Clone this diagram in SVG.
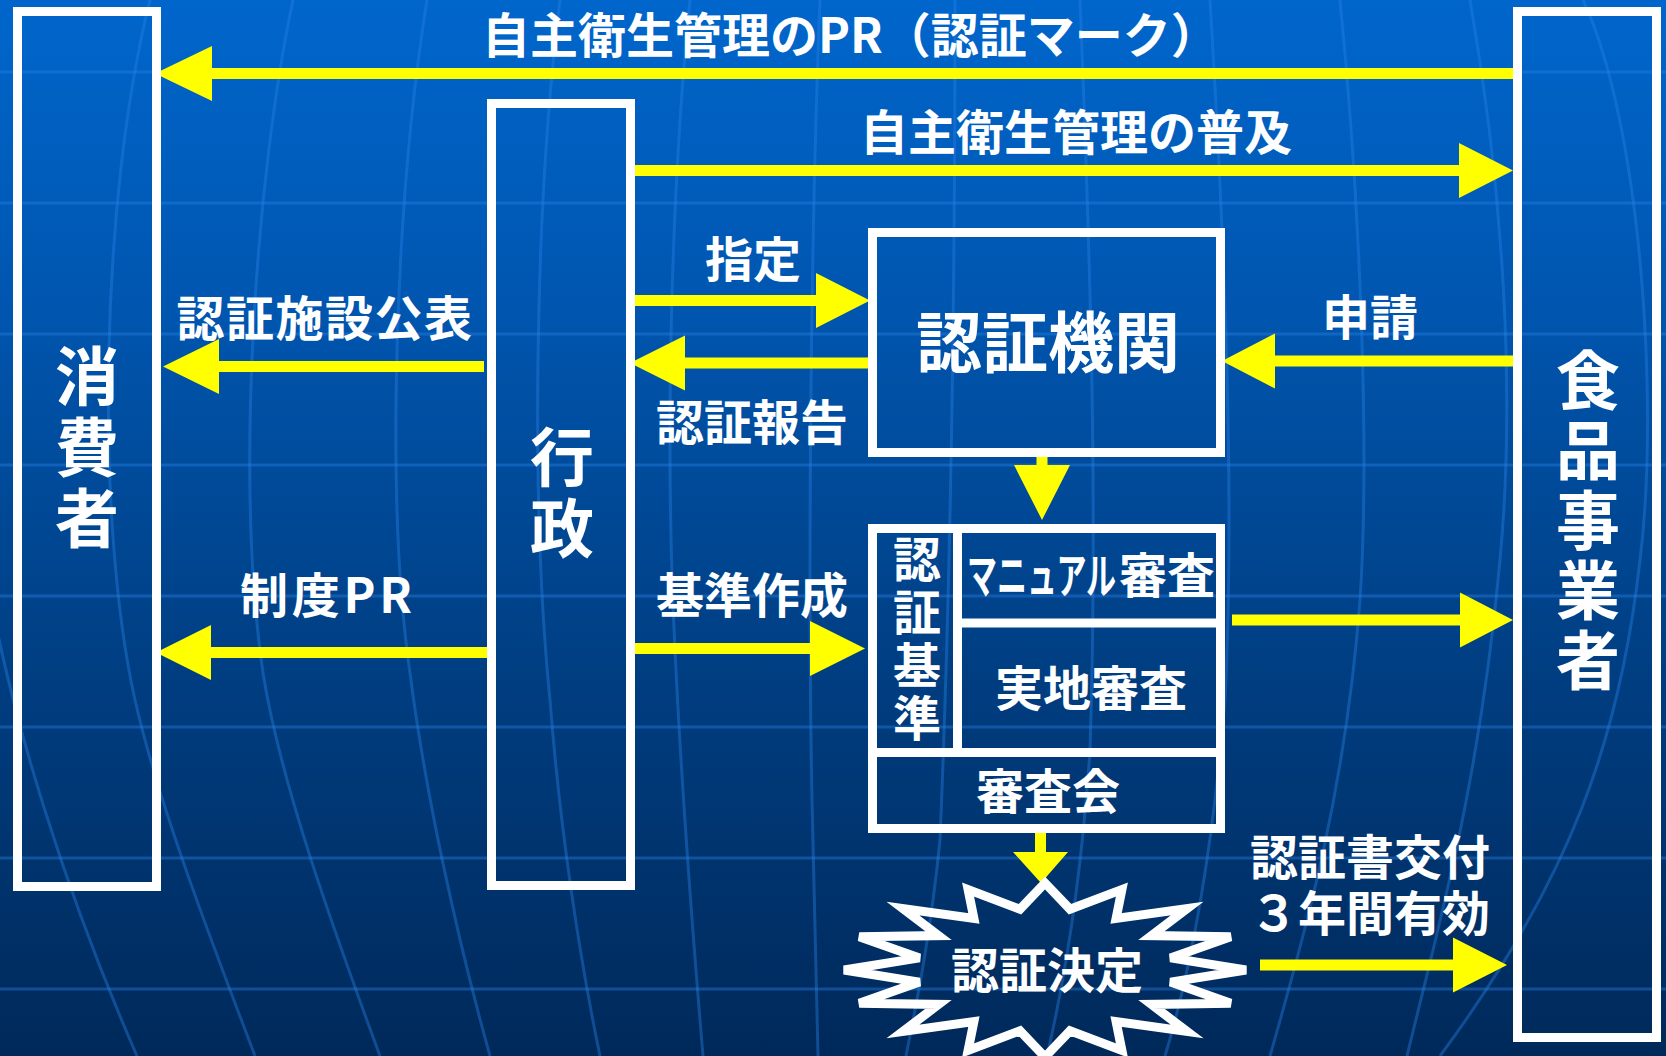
<svg xmlns="http://www.w3.org/2000/svg" width="1666" height="1056" viewBox="0 0 1666 1056">
<defs>
<linearGradient id="bg" x1="0" y1="0" x2="0" y2="1">
<stop offset="0" stop-color="#0066cc"/>
<stop offset="0.3" stop-color="#0055ae"/>
<stop offset="0.65" stop-color="#003d80"/>
<stop offset="1" stop-color="#00295a"/>
</linearGradient>
<style>
.grid{fill:none;stroke:#2882e6;stroke-opacity:0.4;stroke-width:3}
.hl{fill:none;stroke:#2882e6;stroke-opacity:0.4;stroke-width:3}
.box{fill:none;stroke:#ffffff;stroke-width:9}
.arr{fill:#ffff00}
.t{font-family:"Noto Sans CJK JP","Noto Sans",sans-serif;font-weight:bold;fill:#ffffff}
.s48{font-size:48px}
.s64{font-size:64px}
.s66{font-size:66px}
.c{text-anchor:middle}
.v{writing-mode:vertical-rl}
</style>
</defs>
<rect x="0" y="0" width="1666" height="1056" fill="url(#bg)"/>
<g id="background-grid">
<path class="hl" d="M0,72H1666M0,203H1666M0,334H1666M0,465H1666M0,596H1666M0,727H1666M0,858H1666M0,989H1666"/>
<path class="grid" d="M-5,620 C15,720 60,880 137,1056"/>
<path class="grid" d="M150,0 C100,200 95,520 135,700 C160,810 215,950 255,1056"/>
<path class="grid" d="M293,0 C255,180 235,480 263,673 C280,780 330,920 380,1056"/>
<path class="grid" d="M427,0 C395,200 385,500 410,673 C425,790 455,930 490,1056"/>
<path class="grid" d="M560,0 C535,200 530,500 550,700 C560,830 580,960 600,1056"/>
<path class="grid" d="M690,0 C670,200 665,450 675,650 C683,820 695,960 703,1056"/>
<path class="grid" d="M820,0 C810,250 808,600 812,800 C815,900 817,1000 818,1056"/>
<path class="grid" d="M955,0 C955,300 950,600 940,840 C930,940 915,1010 906,1056"/>
<path class="grid" d="M1080,0 C1090,250 1098,500 1090,750 C1080,900 1060,1000 1047,1056"/>
<path class="grid" d="M1210,0 C1225,250 1235,500 1225,700 C1210,880 1185,990 1165,1056"/>
<path class="grid" d="M1340,0 C1360,200 1370,450 1360,600 C1345,800 1300,950 1270,1056"/>
<path class="grid" d="M1470,0 C1505,200 1515,400 1500,560 C1480,780 1440,920 1407,1056"/>
<path class="grid" d="M1583,0 C1640,120 1660,400 1640,560 C1620,740 1570,880 1440,1056"/>
</g>
<g id="connectors">
<polygon class="arr" points="155,73.5 212,46 212,68 1518,68 1518,79 212,79 212,101"/>
<polygon class="arr" points="1513,170.5 1459,143 1459,165 632,165 632,176 1459,176 1459,198"/>
<polygon class="arr" points="870,300.5 816,273 816,295 629,295 629,306 816,306 816,328"/>
<polygon class="arr" points="630,363 685,335.5 685,357.5 870,357.5 870,368.5 685,368.5 685,390.5"/>
<polygon class="arr" points="163,366.5 219,339 219,361 484,361 484,372 219,372 219,394"/>
<polygon class="arr" points="156,652.5 211,625 211,647 490,647 490,658 211,658 211,680"/>
<polygon class="arr" points="865,648.5 810,621 810,643 633,643 633,654 810,654 810,676"/>
<polygon class="arr" points="1222,361 1275,333.5 1275,355.5 1514,355.5 1514,366.5 1275,366.5 1275,388.5"/>
<polygon class="arr" points="1513,620 1460,592.5 1460,614.5 1232,614.5 1232,625.5 1460,625.5 1460,647.5"/>
<polygon class="arr" points="1507,965 1453,937.5 1453,959.5 1260,959.5 1260,970.5 1453,970.5 1453,992.5"/>
<polygon class="arr" points="1036.5,451 1047.5,451 1047.5,465 1070,465 1042,520 1014,465 1036.5,465"/>
<polygon class="arr" points="1035,833 1046,833 1046,852 1068,852 1041,883 1013,852 1035,852"/>
</g>
<g id="label-pr">
<text class="t s48" x="482" y="53">自主衛生管理のPR（認証マーク）</text>
</g>
<g id="label-fukyu"><text class="t s48 c" x="1076" y="150">自主衛生管理の普及</text></g>
<g id="label-shitei"><text class="t s48 c" x="753" y="277">指定</text></g>
<g id="label-hokoku"><text class="t s48 c" x="752" y="440">認証報告</text></g>
<g id="label-kohyo"><text class="t s48 c" x="325" y="336" letter-spacing="1.5">認証施設公表</text></g>
<g id="label-seidopr"><text class="t s48 c" x="326" y="613" textLength="172" lengthAdjust="spacing">制度PR</text></g>
<g id="label-shinsei"><text class="t s48 c" x="1370" y="335">申請</text></g>
<g id="label-kijun"><text class="t s48 c" x="752" y="613">基準作成</text></g>
<g id="label-kofu">
<text class="t s48 c"><tspan x="1370" y="875">認証書交付</tspan><tspan x="1370" y="931">３年間有効</tspan></text>
</g>
<g id="node-shohisha">
<rect class="box" x="17.5" y="11.5" width="139" height="875"/>
<text class="t s64 v" x="87" y="344" letter-spacing="7">消費者</text>
</g>
<g id="node-gyosei">
<rect class="box" x="491.5" y="103.5" width="139" height="782"/>
<text class="t s64 v" x="562" y="425" letter-spacing="7">行政</text>
</g>
<g id="node-jigyosha">
<rect class="box" x="1517.5" y="11.5" width="139" height="1026"/>
<text class="t s64 v" x="1588" y="348" letter-spacing="6">食品事業者</text>
</g>
<g id="node-kikan">
<rect class="box" x="872.5" y="232.5" width="348" height="220"/>
<text class="t s66 c" x="1048" y="367">認証機関</text>
</g>
<g id="node-shinsa">
<rect class="box" x="872.5" y="528.5" width="348" height="300"/>
<line class="box" x1="957.5" y1="533" x2="957.5" y2="752"/>
<line class="box" x1="957.5" y1="623" x2="1220" y2="623"/>
<line class="box" x1="872.5" y1="752.5" x2="1220.5" y2="752.5"/>
<text class="t s48 v" x="917" y="535" letter-spacing="5">認証基準</text>
<text class="t s48" transform="translate(967,593) scale(0.625,1)">マニュアル</text>
<text class="t s48" x="1119" y="593">審査</text>
<text class="t s48 c" x="1091" y="706">実地審査</text>
<text class="t s48 c" x="1048" y="809">審査会</text>
</g>
<g id="node-kettei">
<polygon fill="none" stroke="#ffffff" stroke-width="9" stroke-linejoin="miter" stroke-miterlimit="4" points="1045,883 1070,909.2 1121.9,889.6 1116.1,918.4 1187.1,908.5 1151.4,935.6 1230.7,936.7 1170.5,957.9 1246,970 1170.5,982.1 1230.7,1003.3 1151.4,1004.4 1187.1,1031.5 1116.1,1021.6 1121.9,1050.4 1070,1030.8 1045,1057 1020,1030.8 968.1,1050.4 973.9,1021.6 902.9,1031.5 938.6,1004.4 859.3,1003.3 919.5,982.1 844,970 919.5,957.9 859.3,936.7 938.6,935.6 902.9,908.5 973.9,918.4 968.1,889.6 1020,909.2"/>
<text class="t s48 c" x="1047" y="988">認証決定</text>
</g>
</svg>
